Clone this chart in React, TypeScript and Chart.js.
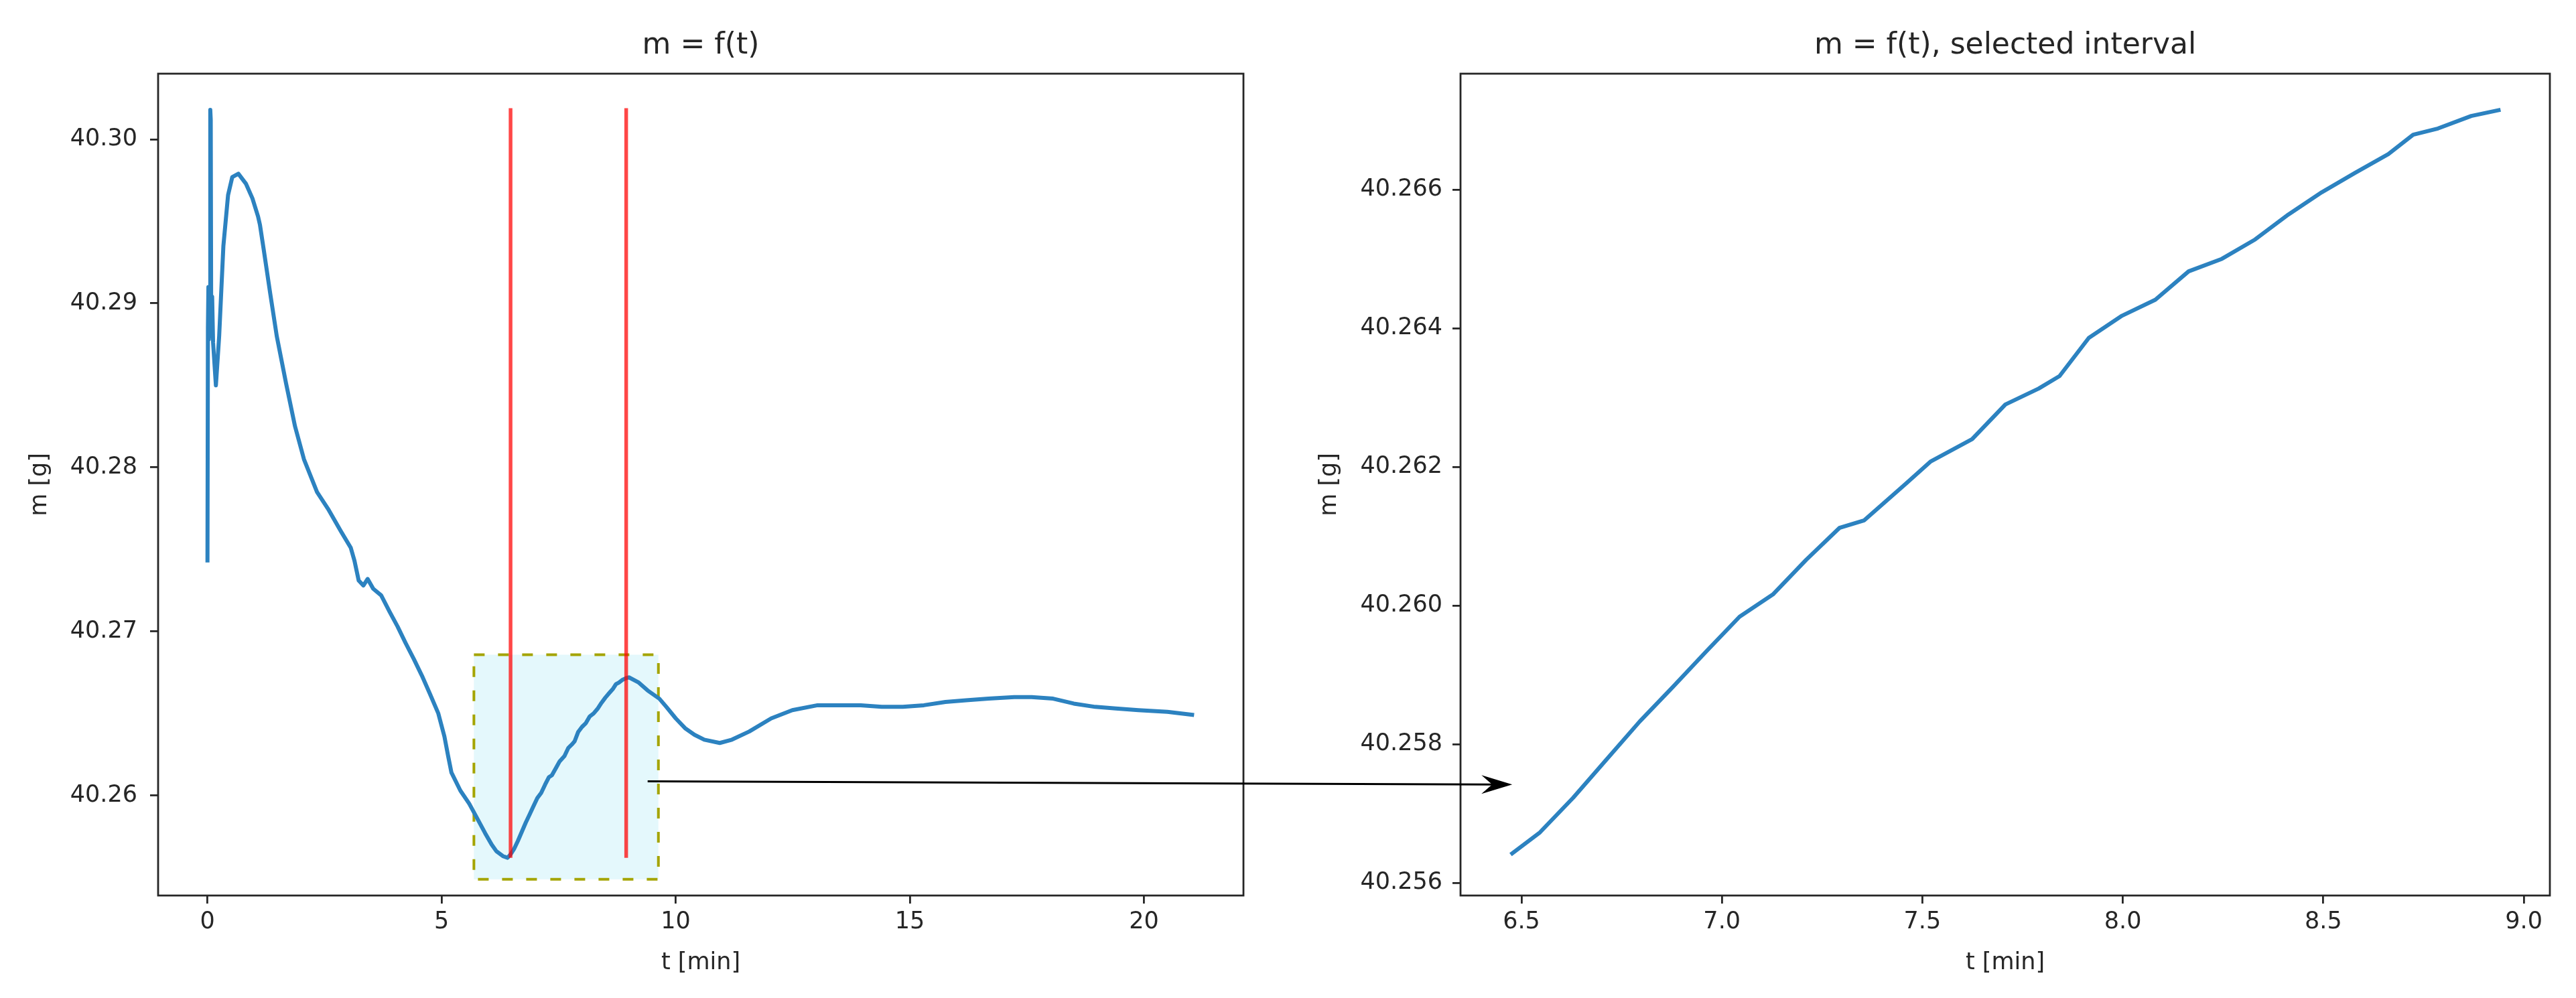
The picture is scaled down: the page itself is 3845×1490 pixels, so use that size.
import React, { useEffect, useRef } from "react";
import { Chart, registerables } from "chart.js";

Chart.register(...registerables);

// ---------------- data ----------------
const TIME_MIN = [
  0.0, 0.01, 0.02, 0.03, 0.04, 0.05, 0.06, 0.07, 0.08, 0.1, 0.12, 0.18, 0.25, 0.34, 0.44, 0.53, 0.66, 0.82, 0.96,
  1.08, 1.12, 1.2, 1.34, 1.48, 1.68, 1.87, 2.06, 2.34, 2.59, 2.85, 3.06, 3.14, 3.23, 3.33, 3.42, 3.54, 3.71, 3.89,
  4.06, 4.23, 4.41, 4.58, 4.75, 4.93, 5.06, 5.14, 5.21, 5.4, 5.59, 5.78, 5.93, 6.07, 6.17, 6.31, 6.41,
  6.473, 6.546, 6.629, 6.712, 6.795, 6.878, 6.961, 7.044, 7.127, 7.21, 7.293, 7.355, 7.459, 7.521, 7.624, 7.707,
  7.79, 7.842, 7.915, 7.998, 8.081, 8.164, 8.247, 8.33, 8.413, 8.496, 8.579, 8.662, 8.724, 8.786, 8.869, 8.942,
  9.0, 9.2, 9.4, 9.65, 9.8, 10.0, 10.2, 10.4, 10.61, 10.94, 11.2, 11.57, 12.04, 12.49, 13.03, 13.5, 13.95, 14.4,
  14.85, 15.3, 15.76, 16.2, 16.68, 17.23, 17.6, 18.06, 18.5, 18.96, 19.4, 19.88, 20.5, 21.07,
];
const MASS_G = [
  40.2742, 40.2885, 40.291, 40.2878, 40.2908, 40.288, 40.3018, 40.3012, 40.2885, 40.2904, 40.2876, 40.285, 40.288,
  40.2935, 40.2966, 40.2977, 40.2979, 40.2973, 40.2964, 40.2953, 40.2948, 40.2933, 40.2906, 40.288, 40.2851,
  40.2825, 40.2805, 40.2785, 40.2774, 40.2761, 40.2751, 40.2743, 40.2731, 40.2728, 40.2732, 40.2726, 40.2722,
  40.2712, 40.2703, 40.2693, 40.2683, 40.2673, 40.2662, 40.265, 40.2636, 40.2624, 40.2614, 40.2603, 40.2595,
  40.2585, 40.2577, 40.257, 40.2566, 40.2563, 40.2562,
  40.25641, 40.25673, 40.25723, 40.25778, 40.25833, 40.25883, 40.25934, 40.25984, 40.26016, 40.26066, 40.26112,
  40.26123, 40.26176, 40.26208, 40.2624, 40.2629, 40.26313, 40.26331, 40.26386, 40.26418, 40.26441, 40.26482,
  40.265, 40.26528, 40.26564, 40.26596, 40.26624, 40.26651, 40.26679, 40.26688, 40.26706, 40.26715,
  40.2672, 40.2669, 40.2664, 40.2659, 40.2654, 40.2647, 40.2641, 40.2637, 40.2634, 40.2632, 40.2634, 40.2639,
  40.2647, 40.2652, 40.2655, 40.2655, 40.2655, 40.2654, 40.2654, 40.2655, 40.2657, 40.2658, 40.2659, 40.266,
  40.266, 40.2659, 40.2656, 40.2654, 40.2653, 40.2652, 40.2651, 40.2649,
];

const INTERVAL = [6.473, 8.942];
const RED_LINE_RANGE = [40.2562, 40.3019];
const BOX_T = [5.69, 9.63];
const BOX_M = [40.25489, 40.26858];
const ARROW_FROM = [9.4, 40.26086];
const ARROW_TO = [6.477, 40.25742];

const LEFT_X_TICKS = [0, 5, 10, 15, 20];
const LEFT_Y_TICKS = [40.26, 40.27, 40.28, 40.29, 40.3];
const RIGHT_X_TICKS = [6.5, 7.0, 7.5, 8.0, 8.5, 9.0];
const RIGHT_Y_TICKS = [40.256, 40.258, 40.26, 40.262, 40.264, 40.266];

const LEFT_X_LIMITS = [-1.054, 22.124];
const LEFT_Y_LIMITS = [40.2539, 40.304];
const RIGHT_X_LIMITS = [6.348, 9.065];
const RIGHT_Y_LIMITS = [40.25582, 40.26767];

const LEFT_TITLE = "m = f(t)";
const RIGHT_TITLE = "m = f(t), selected interval";
const X_LABEL = "t [min]";
const Y_LABEL = "m [g]";

// ---------------- styles ----------------
const FONT = "DejaVu Sans";
const TEXT_COLOR = "#262626";
const AXIS_COLOR = "#262626";
const LINE_BLUE = "#2c82c0";
const RED = "rgba(255,0,0,0.72)";

const W = 3845;
const H = 1490;
const LEFT_CANVAS = { x: 0, w: 1900 };
const RIGHT_CANVAS = { x: 1900, w: 1945 };

const framePlugin = {
  id: "frame",
  afterDraw(chart: any) {
    const { ctx, chartArea: a } = chart;
    ctx.save();
    ctx.strokeStyle = AXIS_COLOR;
    ctx.lineWidth = 2.8;
    ctx.setLineDash([]);
    ctx.strokeRect(a.left, a.top, a.right - a.left, a.bottom - a.top);
    ctx.restore();
  },
};

const boxPlugin = {
  id: "selBox",
  beforeDatasetsDraw(chart: any) {
    const { ctx } = chart;
    const xs = chart.scales.x;
    const ys = chart.scales.y;
    const x0 = xs.getPixelForValue(BOX_T[0]);
    const x1 = xs.getPixelForValue(BOX_T[1]);
    const y0 = ys.getPixelForValue(BOX_M[1]);
    const y1 = ys.getPixelForValue(BOX_M[0]);
    ctx.save();
    ctx.fillStyle = "rgb(228,248,252)";
    ctx.fillRect(x0, y0, x1 - x0, y1 - y0);
    ctx.strokeStyle = "#a4a400";
    ctx.lineWidth = 4;
    ctx.setLineDash([16, 20]);
    ctx.strokeRect(x0, y0, x1 - x0, y1 - y0);
    ctx.restore();
  },
};

function series(filter?: (t: number) => boolean) {
  const out: { x: number; y: number }[] = [];
  TIME_MIN.forEach((t, i) => {
    if (!filter || filter(t)) out.push({ x: t, y: MASS_G[i] });
  });
  return out;
}

function axisCommon(
  ticks: number[],
  fmt: (v: number) => string,
  limits: number[],
  title: string,
  horizontal: boolean,
  size: number,
  tickPad: number,
  titlePad: any
) {
  return {
    type: "linear",
    min: limits[0],
    max: limits[1],
    afterBuildTicks: (axis: any) => {
      axis.ticks = ticks.map((value) => ({ value }));
    },
    afterFit: (axis: any) => {
      if (horizontal) axis.height = size;
      else axis.width = size;
    },
    ticks: {
      color: TEXT_COLOR,
      font: { family: FONT, size: 35 },
      padding: tickPad,
      maxRotation: 0,
      autoSkip: false,
      callback: (v: any) => fmt(Number(v)),
    },
    grid: {
      display: true,
      drawOnChartArea: false,
      drawTicks: true,
      tickLength: 12,
      tickWidth: 2.8,
      tickColor: AXIS_COLOR,
      lineWidth: 2.8,
      color: AXIS_COLOR,
    },
    border: { display: false },
    title: {
      display: true,
      text: title,
      color: TEXT_COLOR,
      font: { family: FONT, size: 35 },
      padding: titlePad,
    },
  };
}

function baseOptions(titleText: string, xScale: any, yScale: any, padRight: number) {
  return {
    responsive: false,
    maintainAspectRatio: false,
    animation: false,
    devicePixelRatio: 1,
    events: [],
    layout: { padding: { left: 0, right: padRight, top: 0, bottom: 0 } },
    plugins: {
      legend: { display: false },
      tooltip: { enabled: false },
      title: {
        display: true,
        text: titleText,
        color: TEXT_COLOR,
        fullSize: false,
        font: { family: FONT, size: 44, weight: "normal" },
        padding: { top: 42.6, bottom: 14.6 },
      },
    },
    scales: { x: xScale, y: yScale },
  };
}

function leftConfig(): any {
  return {
    type: "line",
    data: {
      datasets: [
        {
          data: [
            { x: INTERVAL[0], y: RED_LINE_RANGE[0] },
            { x: INTERVAL[0], y: RED_LINE_RANGE[1] },
          ],
          borderColor: RED,
          borderWidth: 5.5,
          pointRadius: 0,
          order: 0,
        },
        {
          data: [
            { x: INTERVAL[1], y: RED_LINE_RANGE[0] },
            { x: INTERVAL[1], y: RED_LINE_RANGE[1] },
          ],
          borderColor: RED,
          borderWidth: 5.5,
          pointRadius: 0,
          order: 0,
        },
        {
          data: series(),
          borderColor: LINE_BLUE,
          borderWidth: 6,
          pointRadius: 0,
          tension: 0,
          borderJoinStyle: "round",
          order: 1,
        },
      ],
    },
    options: baseOptions(
      LEFT_TITLE,
      axisCommon(LEFT_X_TICKS, (v) => String(v), LEFT_X_LIMITS, X_LABEL, true, 153, 7, { top: 0, bottom: 31 }),
      axisCommon(LEFT_Y_TICKS, (v) => v.toFixed(2), LEFT_Y_LIMITS, Y_LABEL, false, 236, 19, { top: 39, bottom: 0 }),
      LEFT_CANVAS.w - 1856
    ),
    plugins: [boxPlugin, framePlugin],
  };
}

function rightConfig(): any {
  return {
    type: "line",
    data: {
      datasets: [
        {
          data: series((t) => t >= INTERVAL[0] && t <= INTERVAL[1]),
          borderColor: LINE_BLUE,
          borderWidth: 6,
          pointRadius: 0,
          tension: 0,
          borderJoinStyle: "round",
        },
      ],
    },
    options: baseOptions(
      RIGHT_TITLE,
      axisCommon(RIGHT_X_TICKS, (v) => v.toFixed(1), RIGHT_X_LIMITS, X_LABEL, true, 153, 7, { top: 0, bottom: 31 }),
      axisCommon(RIGHT_Y_TICKS, (v) => v.toFixed(3), RIGHT_Y_LIMITS, Y_LABEL, false, 2180 - RIGHT_CANVAS.x, 15, {
        top: 64,
        bottom: 0,
      }),
      W - 3806
    ),
    plugins: [framePlugin],
  };
}

function drawArrow(canvas: HTMLCanvasElement, left: any, right: any) {
  const ctx = canvas.getContext("2d");
  if (!ctx) return;
  ctx.clearRect(0, 0, canvas.width, canvas.height);
  const sx = LEFT_CANVAS.x + left.scales.x.getPixelForValue(ARROW_FROM[0]);
  const sy = left.scales.y.getPixelForValue(ARROW_FROM[1]);
  const ex = RIGHT_CANVAS.x + right.scales.x.getPixelForValue(ARROW_TO[0]);
  const ey = right.scales.y.getPixelForValue(ARROW_TO[1]);
  const ang = Math.atan2(ey - sy, ex - sx);
  const len = 46;
  const half = 14;
  const notch = 30;
  const ux = Math.cos(ang);
  const uy = Math.sin(ang);
  const px = -uy;
  const py = ux;
  const bx = ex - ux * len;
  const by = ey - uy * len;
  const nx = ex - ux * notch;
  const ny = ey - uy * notch;
  ctx.save();
  ctx.strokeStyle = "#000";
  ctx.lineWidth = 3;
  ctx.beginPath();
  ctx.moveTo(sx, sy);
  ctx.lineTo(nx, ny);
  ctx.stroke();
  ctx.fillStyle = "#000";
  ctx.beginPath();
  ctx.moveTo(ex, ey);
  ctx.lineTo(bx + px * half, by + py * half);
  ctx.lineTo(nx, ny);
  ctx.lineTo(bx - px * half, by - py * half);
  ctx.closePath();
  ctx.fill();
  ctx.restore();
}

export default function App() {
  const leftRef = useRef<HTMLCanvasElement>(null);
  const rightRef = useRef<HTMLCanvasElement>(null);
  const overlayRef = useRef<HTMLCanvasElement>(null);

  useEffect(() => {
    const left = new Chart(leftRef.current as HTMLCanvasElement, leftConfig());
    const right = new Chart(rightRef.current as HTMLCanvasElement, rightConfig());
    drawArrow(overlayRef.current as HTMLCanvasElement, left, right);
    return () => {
      left.destroy();
      right.destroy();
    };
  }, []);

  return (
    <div style={{ position: "fixed", left: 0, top: 0, width: W, height: H, background: "#fff", overflow: "hidden" }}>
      <canvas
        ref={leftRef}
        width={LEFT_CANVAS.w}
        height={H}
        style={{ position: "absolute", left: LEFT_CANVAS.x, top: 0, width: LEFT_CANVAS.w, height: H }}
      />
      <canvas
        ref={rightRef}
        width={RIGHT_CANVAS.w}
        height={H}
        style={{ position: "absolute", left: RIGHT_CANVAS.x, top: 0, width: RIGHT_CANVAS.w, height: H }}
      />
      <canvas
        ref={overlayRef}
        width={W}
        height={H}
        style={{ position: "absolute", left: 0, top: 0, width: W, height: H, pointerEvents: "none" }}
      />
    </div>
  );
}
